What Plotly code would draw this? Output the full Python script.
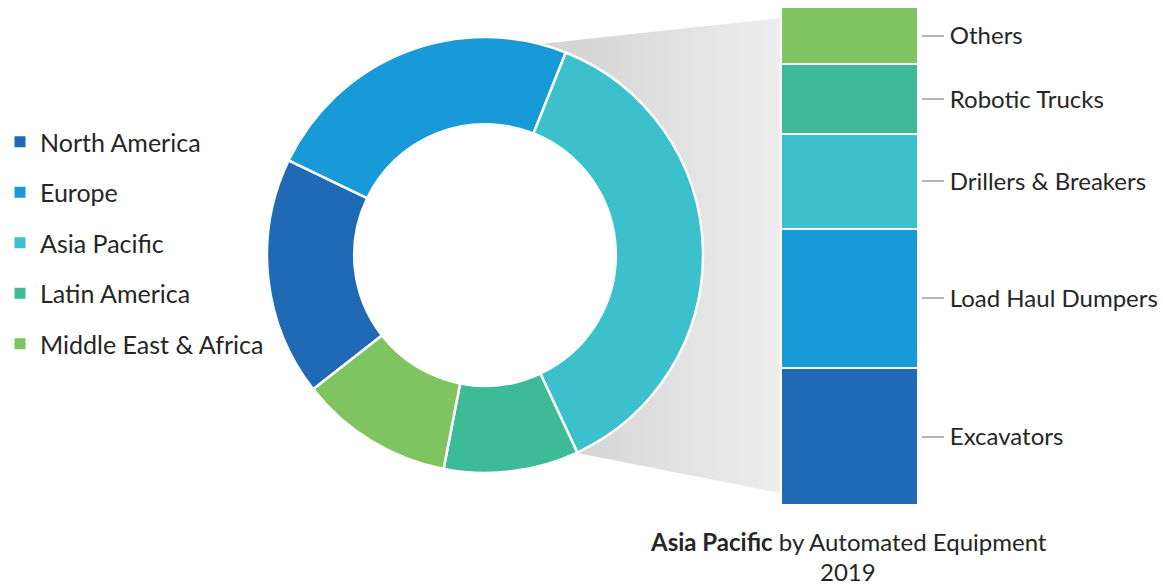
import numpy as np
import plotly.graph_objects as go

# ---------------- data ----------------
regions = ["North America", "Europe", "Asia Pacific", "Latin America", "Middle East & Africa"]
region_share = [17.7, 23.9, 37.0, 10.0, 11.4]
region_colors = ["#1F69B5", "#179AD7", "#3CC0CC", "#3DBB97", "#7FC460"]

equipment = ["Excavators", "Load Haul Dumpers", "Drillers & Breakers", "Robotic Trucks", "Others"]
equipment_share = [27.5, 28.0, 19.0, 14.0, 11.5]
equipment_colors = ["#1F69B5", "#179AD7", "#3CC0CC", "#3DBB97", "#7FC460"]

caption_bold = "Asia Pacific"
caption_rest = "by Automated Equipment"
caption_year = "2019"

W, H = 1163, 587
FONT = "Lato"
TXT = "#262626"

fig = go.Figure()

# ---------------- grey connector (decoration, pixel space) ----------------
cx, cy, R = 485, 255, 218
r_mid = 0.8 * R
ang = np.linspace(np.pi, 0, 60)
arc_x = cx + r_mid * np.sin(ang)
arc_y = cy - r_mid * np.cos(ang)
poly_x = [485, 780, 780, 485] + list(arc_x)
poly_y = [50, 18, 493, 435] + list(arc_y)
fig.add_trace(go.Scatter(
    x=poly_x, y=poly_y, mode="lines", fill="toself", line=dict(width=0),
    fillgradient=dict(type="horizontal",
                      colorscale=[[0, "#d0d0d0"], [0.31, "#d5d5d5"], [1, "#eeeeee"]]),
    hoverinfo="skip", showlegend=False, xaxis="x", yaxis="y"))

# ---------------- legend entries ----------------
for i, (name, col) in enumerate(zip(regions, region_colors)):
    fig.add_trace(go.Scatter(
        x=[None], y=[None], mode="markers", name=name,
        marker=dict(symbol="square", size=11, color=col),
        legendgroup=f"g{i}", showlegend=True, xaxis="x", yaxis="y"))

# ---------------- donut ----------------
fig.add_trace(go.Pie(
    labels=regions, values=region_share, hole=0.6, sort=False,
    direction="clockwise", rotation=232,
    marker=dict(colors=region_colors, line=dict(color="white", width=2.5)),
    textinfo="none", showlegend=False,
    domain=dict(x=[(cx - R) / W, (cx + R) / W],
                y=[(H - (cy + R)) / H, (H - (cy - R)) / H])))

# ---------------- stacked bar ----------------
for name, val, col in zip(equipment, equipment_share, equipment_colors):
    fig.add_trace(go.Bar(
        x=[0], y=[val], name=name, width=1,
        marker=dict(color=col, line=dict(color="white", width=2.5)),
        showlegend=False, xaxis="x2", yaxis="y2"))

cum = np.cumsum(equipment_share)
centers = list(cum - np.array(equipment_share) / 2)

fig.update_layout(
    width=W, height=H,
    margin=dict(l=0, r=0, t=0, b=0),
    paper_bgcolor="white", plot_bgcolor="rgba(0,0,0,0)",
    barmode="stack", bargap=0,
    font=dict(family=FONT, color=TXT),
    xaxis=dict(domain=[0, 1], range=[0, W], visible=False, fixedrange=True),
    yaxis=dict(domain=[0, 1], range=[H, 0], visible=False, fixedrange=True),
    xaxis2=dict(domain=[781 / W, 918 / W], range=[-0.5, 0.5], visible=False,
                anchor="y2"),
    yaxis2=dict(domain=[(H - 505) / H, (H - 7) / H], range=[0, sum(equipment_share)],
                anchor="free", position=921 / W, side="right",
                tickvals=centers, ticktext=equipment,
                ticks="outside", ticklen=22, tickwidth=1.5, tickcolor="#b5b5b5",
                ticklabelstandoff=1,
                tickfont=dict(family=FONT, size=24, color=TXT),
                showgrid=False, zeroline=False, showline=False),
    legend=dict(x=0.0, xanchor="left", y=(H - 119) / H, yanchor="top",
                font=dict(family=FONT, size=25, color=TXT),
                tracegroupgap=15, traceorder="grouped",
                bgcolor="rgba(0,0,0,0)", itemclick=False),
    annotations=[
        dict(x=848 / W, y=(H - 541) / H, xref="paper", yref="paper",
             xanchor="center", yanchor="middle", showarrow=False,
             text=f"<b>{caption_bold}</b> {caption_rest}",
             font=dict(family=FONT, size=24, color=TXT)),
        dict(x=848 / W, y=(H - 571) / H, xref="paper", yref="paper",
             xanchor="center", yanchor="middle", showarrow=False,
             text=caption_year,
             font=dict(family=FONT, size=24, color=TXT)),
    ],
)

fig.write_html("out.html", config={"displayModeBar": False},
               post_script="document.body.style.margin='0px';")
